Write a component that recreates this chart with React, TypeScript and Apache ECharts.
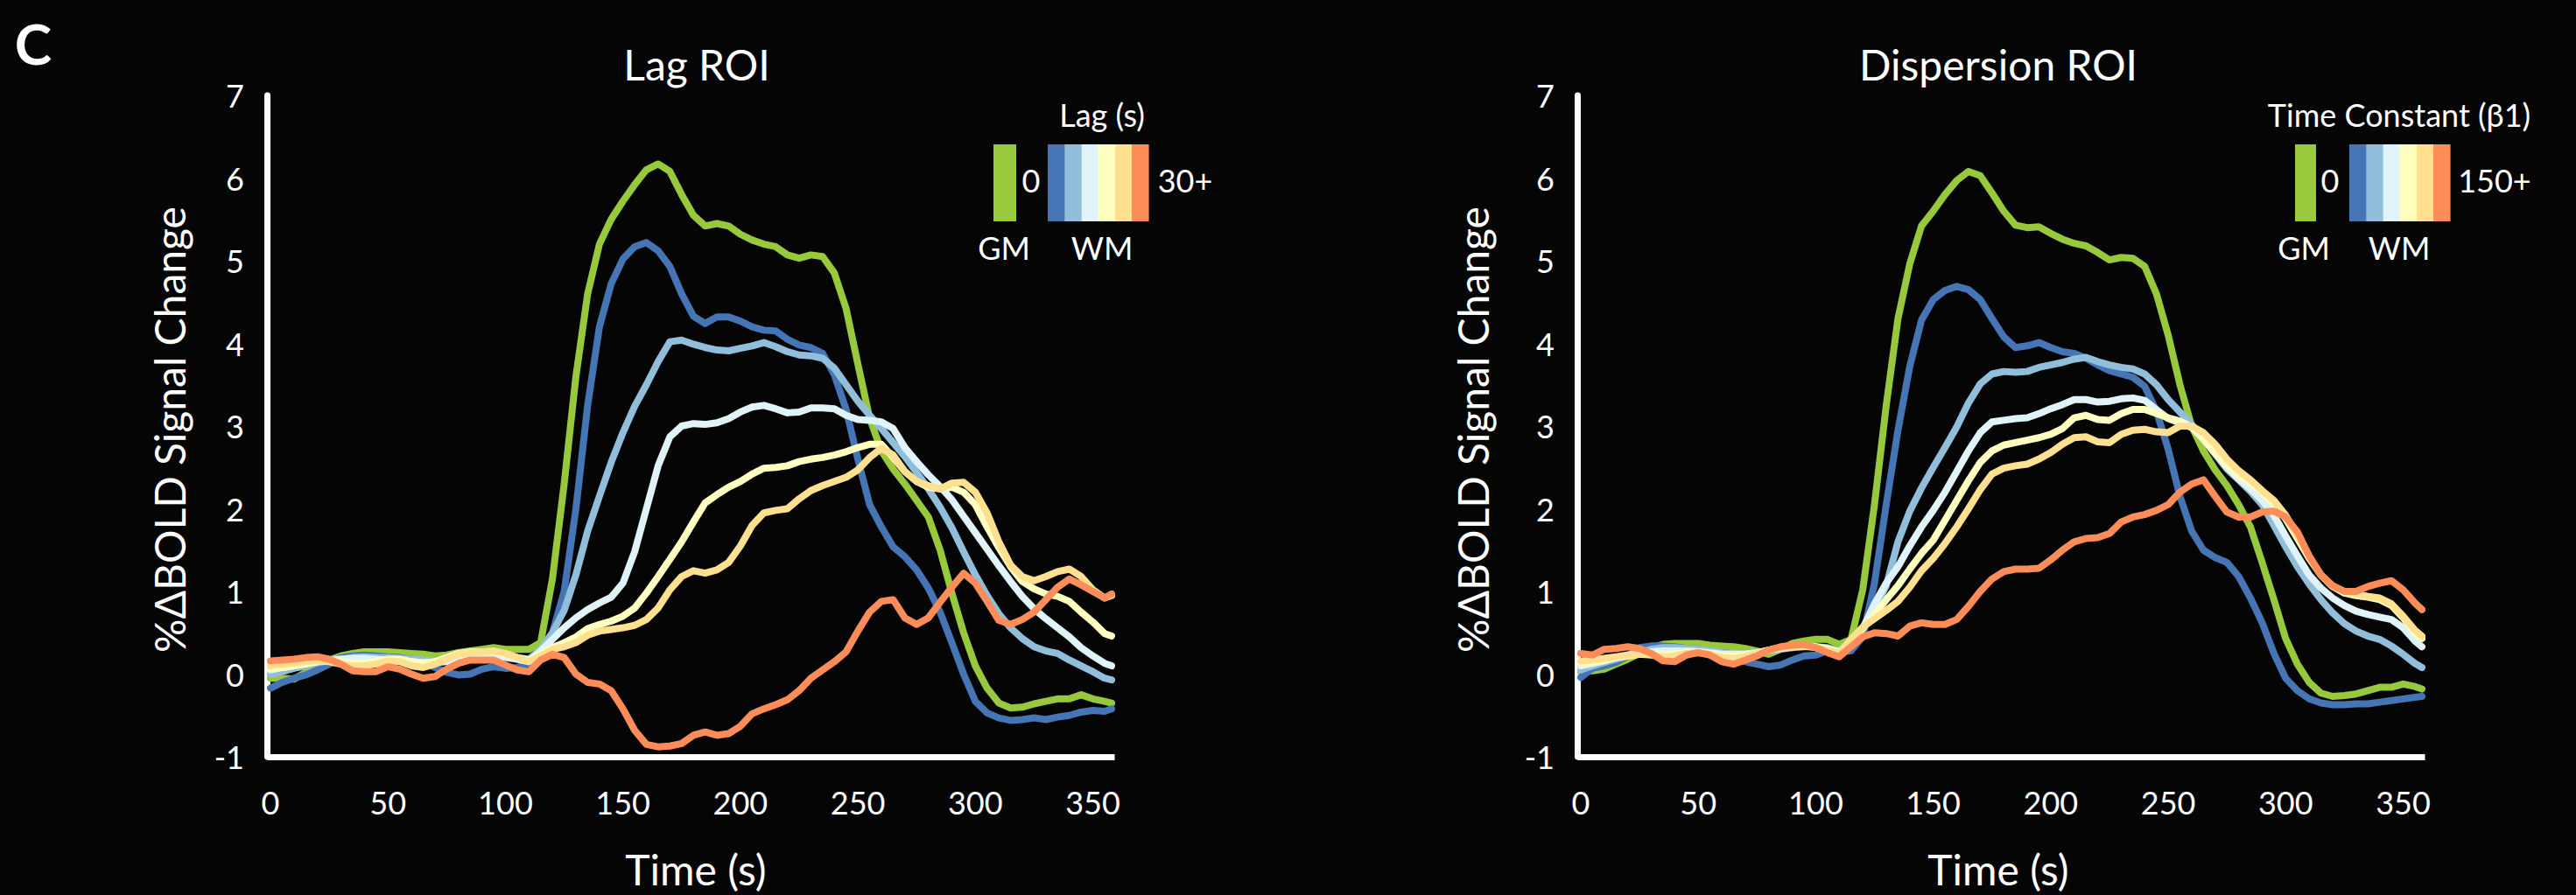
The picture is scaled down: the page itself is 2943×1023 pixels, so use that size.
import React, { useEffect, useRef } from "react";
import * as echarts from "echarts";

// Time points (s)
const time = [0,5,10,15,20,25,30,35,40,45,50,55,60,65,70,75,80,85,90,95,100,105,110,115,120,125,130,135,140,145,150,155,160,165,170,175,180,185,190,195,200,205,210,215,220,225,230,235,240,245,250,255,260,265,270,275,280,285,290,295,300,305,310,315,320,325,330,335,340,345,350,355,358];

// Lag ROI
const lagGM = [
  -0.05,-0.05,-0.06,0.02,0.10,0.17,0.22,0.25,0.27,0.27,
  0.27,0.26,0.25,0.24,0.22,0.23,0.26,0.28,0.30,0.32,
  0.30,0.30,0.30,0.38,1.15,2.30,3.60,4.60,5.20,5.50,
  5.72,5.92,6.10,6.17,6.08,5.80,5.55,5.42,5.45,5.42,
  5.32,5.25,5.20,5.17,5.07,5.03,5.07,5.05,4.85,4.42,
  3.75,3.10,2.70,2.48,2.30,2.10,1.90,1.50,0.98,0.50,
  0.10,-0.17,-0.35,-0.41,-0.40,-0.36,-0.33,-0.30,-0.30,-0.25,
  -0.30,-0.33,-0.35];
const lagWM1 = [
  -0.17,-0.10,-0.05,-0.01,0.05,0.12,0.20,0.22,0.23,0.22,
  0.21,0.20,0.18,0.14,0.08,0.02,-0.01,0.00,0.06,0.09,
  0.07,0.08,0.13,0.25,0.50,1.00,2.00,3.25,4.20,4.72,
  5.02,5.17,5.22,5.12,4.93,4.60,4.33,4.24,4.32,4.32,
  4.27,4.20,4.16,4.15,4.05,3.98,3.95,3.88,3.62,3.20,
  2.60,2.05,1.78,1.54,1.42,1.26,1.04,0.75,0.38,0.00,
  -0.33,-0.47,-0.53,-0.56,-0.55,-0.53,-0.55,-0.52,-0.50,-0.46,
  -0.44,-0.45,-0.42];
const lagWM2 = [
  0.00,0.03,0.07,0.10,0.14,0.16,0.18,0.20,0.21,0.20,
  0.20,0.19,0.18,0.17,0.15,0.16,0.18,0.20,0.22,0.24,
  0.22,0.20,0.18,0.30,0.50,0.77,1.20,1.73,2.15,2.56,
  2.92,3.24,3.50,3.78,4.02,4.04,3.99,3.95,3.92,3.91,
  3.94,3.97,4.01,3.96,3.90,3.86,3.85,3.82,3.70,3.50,
  3.30,3.13,2.97,2.80,2.63,2.44,2.24,2.02,1.77,1.48,
  1.20,0.95,0.73,0.56,0.43,0.33,0.28,0.25,0.17,0.10,
  0.03,-0.05,-0.07];
const lagWM3 = [
  0.05,0.08,0.10,0.12,0.15,0.17,0.18,0.19,0.19,0.18,
  0.17,0.16,0.15,0.14,0.14,0.15,0.18,0.20,0.22,0.22,
  0.20,0.18,0.15,0.28,0.42,0.56,0.68,0.78,0.86,0.93,
  1.10,1.48,2.00,2.52,2.87,3.00,3.03,3.02,3.04,3.09,
  3.17,3.23,3.25,3.21,3.16,3.17,3.22,3.22,3.21,3.13,
  3.08,3.07,3.05,2.97,2.74,2.57,2.41,2.27,2.11,1.91,
  1.71,1.51,1.31,1.12,0.94,0.79,0.67,0.56,0.45,0.32,
  0.22,0.13,0.10];
const lagWM4 = [
  0.07,0.08,0.10,0.13,0.15,0.16,0.15,0.13,0.13,0.15,
  0.18,0.18,0.15,0.13,0.15,0.20,0.25,0.27,0.27,0.27,
  0.24,0.20,0.17,0.25,0.32,0.38,0.45,0.55,0.60,0.64,
  0.70,0.80,0.98,1.18,1.39,1.60,1.84,2.07,2.17,2.26,
  2.33,2.42,2.49,2.50,2.52,2.57,2.60,2.62,2.65,2.69,
  2.74,2.78,2.78,2.62,2.45,2.33,2.26,2.24,2.26,2.20,
  2.05,1.78,1.53,1.30,1.12,1.03,0.97,0.94,0.88,0.75,
  0.63,0.49,0.46];
const lagWM5 = [
  0.10,0.12,0.13,0.15,0.16,0.15,0.12,0.10,0.10,0.12,
  0.16,0.15,0.10,0.08,0.12,0.18,0.24,0.26,0.27,0.28,
  0.25,0.20,0.15,0.22,0.30,0.33,0.38,0.47,0.52,0.54,
  0.56,0.59,0.66,0.80,1.02,1.18,1.25,1.22,1.26,1.35,
  1.55,1.80,1.95,1.98,2.00,2.12,2.22,2.28,2.33,2.38,
  2.47,2.62,2.73,2.65,2.45,2.33,2.28,2.24,2.31,2.32,
  2.20,1.95,1.60,1.32,1.18,1.13,1.18,1.24,1.27,1.18,
  1.02,0.92,0.95];
const lagWM6 = [
  0.16,0.17,0.18,0.20,0.21,0.18,0.12,0.04,0.03,0.03,
  0.09,0.06,0.00,-0.05,-0.03,0.06,0.13,0.17,0.17,0.17,
  0.11,0.05,0.03,0.17,0.24,0.20,0.00,-0.10,-0.12,-0.20,
  -0.42,-0.68,-0.85,-0.88,-0.87,-0.84,-0.74,-0.70,-0.74,-0.72,
  -0.63,-0.48,-0.42,-0.37,-0.31,-0.20,-0.05,0.05,0.15,0.27,
  0.52,0.75,0.88,0.90,0.68,0.60,0.68,0.87,1.05,1.22,
  1.10,0.88,0.65,0.60,0.66,0.75,0.90,1.05,1.15,1.08,
  1.00,0.92,0.97];

// Dispersion ROI
const dispGM = [
  0.03,0.04,0.06,0.12,0.18,0.25,0.32,0.36,0.37,0.37,
  0.37,0.35,0.34,0.33,0.31,0.28,0.24,0.30,0.37,0.40,
  0.42,0.42,0.36,0.42,1.02,2.05,3.25,4.30,4.96,5.42,
  5.60,5.80,5.97,6.08,6.03,5.82,5.60,5.43,5.40,5.41,
  5.33,5.26,5.21,5.18,5.10,5.01,5.04,5.03,4.93,4.60,
  4.10,3.50,3.00,2.70,2.47,2.28,2.05,1.78,1.35,0.90,
  0.43,0.12,-0.10,-0.23,-0.27,-0.26,-0.24,-0.20,-0.16,-0.16,
  -0.12,-0.15,-0.18];
const dispWM1 = [
  -0.04,0.07,0.10,0.14,0.22,0.32,0.34,0.34,0.33,0.31,
  0.30,0.27,0.24,0.20,0.15,0.12,0.09,0.11,0.17,0.22,
  0.23,0.28,0.27,0.28,0.45,1.10,2.05,2.95,3.72,4.28,
  4.53,4.64,4.69,4.65,4.53,4.30,4.08,3.95,3.97,4.01,
  3.95,3.90,3.88,3.82,3.74,3.67,3.63,3.59,3.48,3.18,
  2.72,2.15,1.73,1.50,1.41,1.35,1.18,0.92,0.62,0.25,
  -0.05,-0.20,-0.30,-0.35,-0.37,-0.37,-0.36,-0.36,-0.34,-0.32,
  -0.30,-0.28,-0.27];
const dispWM2 = [
  0.05,0.10,0.14,0.18,0.22,0.26,0.30,0.32,0.32,0.31,
  0.30,0.28,0.26,0.25,0.25,0.26,0.28,0.30,0.32,0.33,
  0.33,0.32,0.28,0.38,0.55,0.78,1.07,1.60,1.97,2.25,
  2.50,2.74,2.99,3.28,3.51,3.63,3.66,3.65,3.66,3.71,
  3.74,3.77,3.81,3.83,3.78,3.74,3.71,3.69,3.63,3.50,
  3.32,3.17,3.02,2.84,2.66,2.48,2.35,2.21,2.05,1.80,
  1.54,1.30,1.09,0.90,0.74,0.61,0.52,0.46,0.42,0.34,
  0.24,0.13,0.08];
const dispWM3 = [
  0.10,0.13,0.16,0.20,0.23,0.25,0.27,0.28,0.28,0.28,
  0.27,0.26,0.24,0.24,0.24,0.26,0.29,0.31,0.33,0.34,
  0.33,0.31,0.27,0.38,0.55,0.85,1.10,1.30,1.55,1.78,
  1.98,2.20,2.45,2.70,2.92,3.05,3.07,3.09,3.10,3.15,
  3.21,3.26,3.32,3.32,3.29,3.30,3.33,3.34,3.31,3.20,
  3.09,3.04,2.98,2.85,2.68,2.50,2.36,2.24,2.10,1.92,
  1.67,1.43,1.20,1.04,0.92,0.83,0.76,0.72,0.69,0.66,
  0.56,0.40,0.33];
const dispWM4 = [
  0.13,0.15,0.17,0.20,0.22,0.24,0.24,0.23,0.24,0.26,
  0.27,0.25,0.22,0.21,0.22,0.25,0.29,0.32,0.33,0.34,
  0.33,0.30,0.26,0.40,0.55,0.72,0.90,1.07,1.27,1.46,
  1.62,1.86,2.10,2.34,2.56,2.70,2.77,2.80,2.83,2.86,
  2.90,2.97,3.10,3.13,3.08,3.07,3.15,3.20,3.20,3.15,
  3.10,3.06,2.99,2.84,2.67,2.53,2.40,2.31,2.21,2.05,
  1.88,1.64,1.40,1.20,1.06,0.98,0.95,0.93,0.90,0.83,
  0.68,0.50,0.43];
const dispWM5 = [
  0.16,0.17,0.19,0.21,0.23,0.24,0.23,0.21,0.22,0.25,
  0.26,0.24,0.20,0.19,0.21,0.25,0.29,0.32,0.33,0.34,
  0.32,0.29,0.25,0.42,0.57,0.67,0.77,0.88,1.05,1.25,
  1.40,1.58,1.78,2.00,2.23,2.42,2.49,2.52,2.54,2.60,
  2.68,2.78,2.86,2.87,2.81,2.80,2.90,2.95,2.96,2.93,
  2.92,3.00,3.00,2.92,2.78,2.60,2.46,2.35,2.22,2.10,
  1.92,1.68,1.42,1.20,1.06,1.00,0.97,0.94,0.92,0.85,
  0.70,0.53,0.46];
const dispWM6 = [
  0.25,0.23,0.30,0.31,0.33,0.31,0.25,0.16,0.15,0.23,
  0.26,0.23,0.15,0.12,0.17,0.22,0.29,0.33,0.35,0.36,
  0.32,0.26,0.21,0.33,0.45,0.50,0.49,0.46,0.58,0.62,
  0.60,0.60,0.66,0.82,1.00,1.15,1.24,1.27,1.27,1.28,
  1.38,1.50,1.60,1.64,1.65,1.70,1.84,1.90,1.93,1.98,
  2.05,2.20,2.30,2.35,2.15,1.96,1.90,1.90,1.96,1.97,
  1.90,1.72,1.43,1.20,1.07,1.00,1.00,1.06,1.10,1.13,
  1.02,0.86,0.78];

const xTicksInterval = 50;
const colors = ["#98c93c", "#4575b4", "#91bfdb", "#e0f3f8", "#ffffbf", "#fee090", "#fc8d59"];
const seriesNames = ["GM", "WM1", "WM2", "WM3", "WM4", "WM5", "WM6"];
const lagSeries = [lagGM, lagWM1, lagWM2, lagWM3, lagWM4, lagWM5, lagWM6];
const dispSeries = [dispGM, dispWM1, dispWM2, dispWM3, dispWM4, dispWM5, dispWM6];
const panelTitles = ["Lag ROI", "Dispersion ROI"];
const legendTitles = ["Lag (s)", "Time Constant (\u03b21)"];
const legendMax = ["30+", "150+"];

const FONT = "Lato, 'Open Sans', sans-serif";

export default function App() {
  const ref = useRef<HTMLDivElement>(null);
  useEffect(() => {
    document.body.style.margin = "0";
    document.body.style.background = "#050505";
    const chart = echarts.init(ref.current!, null, { renderer: "svg" });
    const mk = (vals: number[]) => time.map((t, i) => [t, vals[i]]);
    const series: any[] = [];
    [lagSeries, dispSeries].forEach((group, gi) => {
      group.forEach((vals, si) => {
        series.push({
          type: "line",
          name: seriesNames[si] + "-" + gi,
          xAxisIndex: gi,
          yAxisIndex: gi,
          data: mk(vals),
          showSymbol: false,
          symbol: "none",
          lineStyle: { color: colors[si], width: 8, cap: "round", join: "round" },
          itemStyle: { color: colors[si] },
          z: 2 + si,
        });
      });
    });

    const txt = (text: string, x: number, y: number, size: number, extra: any = {}) => ({
      type: "text",
      x,
      y,
      silent: true,
      style: {
        text,
        fill: "#ffffff",
        fontSize: size,
        fontFamily: FONT,
        align: "center",
        verticalAlign: "middle",
        ...(extra.style || {}),
      },
      ...(extra.el || {}),
    });

    const graphic: any[] = [];
    graphic.push(txt("C", 38, 49, 64, { style: { fontWeight: "bold" } }));
    const panelCenter = [796, 2283];
    const yNameX = [193, 1682];
    const legGreenX = [1135, 2622];
    const legGreenW = [26, 24];
    const legZeroX = [1178, 2662];
    const legStripeX = [1197, 2684];
    const legMaxX = [1354, 2850];
    const legGMX = [1147, 2632];
    const legWMX = [1259, 2741];
    for (let p = 0; p < 2; p++) {
      graphic.push(txt(panelTitles[p], panelCenter[p], 73, 48));
      graphic.push(txt("Time (s)", panelCenter[p] - (p === 0 ? 1 : 0), 993, 48));
      graphic.push(
        txt("%\u0394BOLD Signal Change", yNameX[p], 491, 48, { el: { rotation: Math.PI / 2 } })
      );
      graphic.push(txt(legendTitles[p], legWMX[p], 131, 36));
      graphic.push({
        type: "rect",
        silent: true,
        shape: { x: legGreenX[p], y: 165, width: legGreenW[p], height: 88 },
        style: { fill: colors[0] },
      });
      for (let i = 1; i < colors.length; i++) {
        graphic.push({
          type: "rect",
          silent: true,
          shape: { x: legStripeX[p] + (i - 1) * 19.2, y: 165, width: 19.6, height: 88 },
          style: { fill: colors[i] },
        });
      }
      graphic.push(txt("0", legZeroX[p], 206, 36));
      graphic.push(txt(legendMax[p], legMaxX[p], 206, 36));
      graphic.push(txt("GM", legGMX[p], 283, 36));
      graphic.push(txt("WM", legWMX[p], 283, 36));
    }

    const gridLeft = [309, 1806];
    const option: any = {
      backgroundColor: "#050505",
      animation: false,
      textStyle: { fontFamily: FONT },
      grid: gridLeft.map((l) => ({ left: l, top: 109, width: 961, height: 756, containLabel: false })),
      xAxis: [0, 1].map((i) => ({
        gridIndex: i,
        type: "value",
        min: 0,
        max: 358,
        interval: xTicksInterval,
        axisLine: { show: true, onZero: false, lineStyle: { color: "#ffffff", width: 7, cap: "square" } },
        axisTick: { show: false },
        splitLine: { show: false },
        axisLabel: {
          color: "#ffffff",
          fontSize: 36,
          fontFamily: FONT,
          margin: 34,
          showMaxLabel: false,
        },
      })),
      yAxis: [0, 1].map((i) => ({
        gridIndex: i,
        type: "value",
        min: -1,
        max: 7,
        interval: 1,
        offset: 4,
        axisLine: { show: true, onZero: false, lineStyle: { color: "#ffffff", width: 7 } },
        axisTick: { show: false },
        splitLine: { show: false },
        axisLabel: { color: "#ffffff", fontSize: 36, fontFamily: FONT, margin: 26 },
      })),
      series,
      graphic,
    };
    chart.setOption(option);
    return () => chart.dispose();
  }, []);
  return (
    <div
      ref={ref}
      style={{ position: "absolute", left: 0, top: 0, width: 2943, height: 1023, background: "#050505" }}
    />
  );
}
